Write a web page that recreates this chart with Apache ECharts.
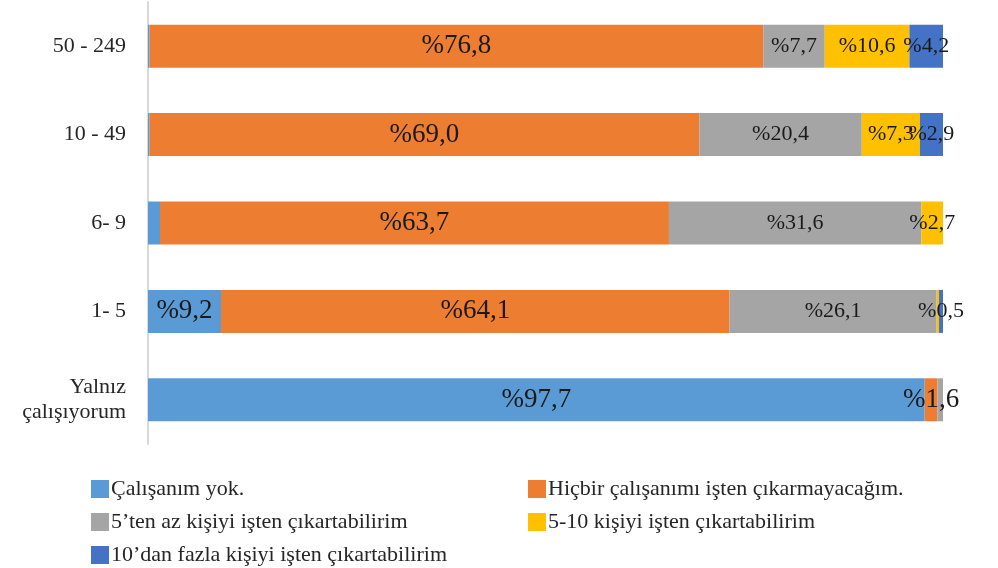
<!DOCTYPE html>
<html><head><meta charset="utf-8">
<script src="https://cdn.jsdelivr.net/npm/echarts@6/dist/echarts.min.js"></script>
<style>html,body{margin:0;padding:0;background:#fff}#c{width:998px;height:568px}</style>
</head><body><div id="c"></div>
<script>
const categories = ['50 - 249', '10 - 49', '6- 9', '1- 5', 'Yalnız\nçalışıyorum'];
const seriesNames = ['Çalışanım yok.', 'Hiçbir çalışanımı işten çıkarmayacağım.', '5’ten az kişiyi işten çıkartabilirim', '5-10 kişiyi işten çıkartabilirim', '10’dan fazla kişiyi işten çıkartabilirim'];
const calisanimYok = [0.2, 0.2, 1.5, 9.2, 97.7];
const hicbir = [76.8, 69.0, 63.7, 64.1, 1.6];
const az5 = [7.7, 20.4, 31.6, 26.1, 0.7];
const arasi5_10 = [10.6, 7.3, 2.7, 0.3, 0];
const fazla10 = [4.2, 2.9, 0, 0.5, 0];
// which labels are shown (per series, per category)
const showLabel = [
  [false, false, false, true, true],
  [true, true, true, true, true],
  [true, true, true, true, false],
  [true, true, true, false, false],
  [true, true, false, true, false]
];
const colors = ['#5B9BD5', '#ED7D31', '#A5A5A5', '#FFC000', '#4472C4'];

const raw = [calisanimYok, hicbir, az5, arasi5_10, fazla10];
const totals = categories.map((_, i) => raw.reduce((s, a) => s + a[i], 0));
const FONT = 'Liberation Serif';
const fmt = v => '%' + v.toFixed(1).replace('.', ',');

const series = raw.map((arr, si) => ({
  name: seriesNames[si],
  type: 'bar',
  stack: 'total',
  barWidth: 43,
  itemStyle: { color: colors[si] },
  label: {
    show: true, position: 'inside', color: '#1a1a1a', fontFamily: FONT,
    fontSize: si < 2 ? 27 : 22,
    formatter: p => fmt(arr[p.dataIndex])
  },
  data: arr.map((v, i) => ({
    value: v / totals[i] * 100,
    label: { show: showLabel[si][i] && v > 0 }
  }))
}));

const legendBase = {
  orient: 'vertical', top: 473, itemWidth: 18, itemHeight: 18, itemGap: 11, height: 95,
  icon: 'rect', textStyle: { fontFamily: FONT, fontSize: 22, lineHeight: 20, color: '#262626', padding: [0, 0, 0, -3] }
};

const chart = echarts.init(document.getElementById('c'));
chart.setOption({
  animation: false,
  textStyle: { fontFamily: FONT },
  grid: { left: 148, right: 55, top: 2, bottom: 124, containLabel: false },
  xAxis: { type: 'value', min: 0, max: 100, show: false },
  yAxis: {
    type: 'category', data: categories, inverse: true,
    axisLine: { show: true, lineStyle: { color: '#d9d9d9', width: 2 } },
    axisTick: { show: false },
    axisLabel: { color: '#262626', fontFamily: FONT, fontSize: 22, margin: 22, lineHeight: 25, align: 'right' }
  },
  legend: [
    Object.assign({}, legendBase, { left: 86, data: [seriesNames[0], seriesNames[2], seriesNames[4]] }),
    Object.assign({}, legendBase, { left: 523, data: [seriesNames[1], seriesNames[3]] })
  ],
  series: series
});
</script></body></html>
